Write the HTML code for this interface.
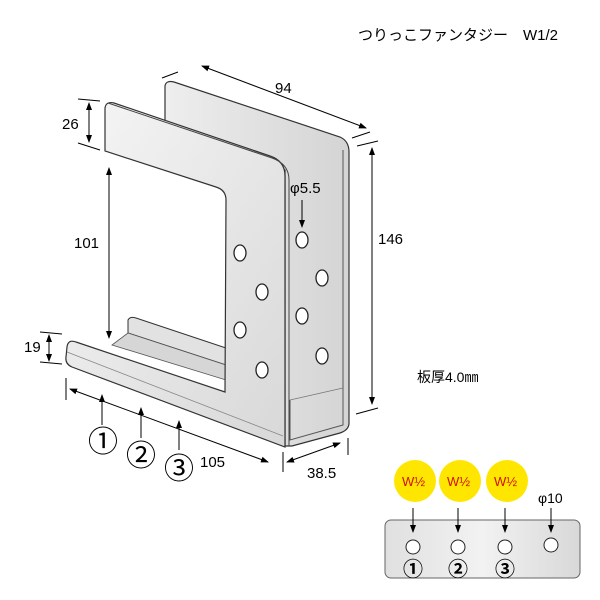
<!DOCTYPE html>
<html><head><meta charset="utf-8"><style>
html,body{margin:0;padding:0;background:#fff;}
svg{display:block;font-family:"Liberation Sans","Noto Sans CJK JP",sans-serif;}
</style></head><body>
<svg width="600" height="600" viewBox="0 0 600 600" xmlns="http://www.w3.org/2000/svg">
<defs>
<linearGradient id="g1" x1="0" y1="0" x2="1" y2="1"><stop offset="0" stop-color="#f6f6f6"/><stop offset="1" stop-color="#d8d8d8"/></linearGradient>
<linearGradient id="g2" x1="0" y1="0" x2="1" y2="0"><stop offset="0" stop-color="#eeeeee"/><stop offset="1" stop-color="#d4d4d4"/></linearGradient>
<linearGradient id="g3" x1="0" y1="0" x2="1" y2="0"><stop offset="0" stop-color="#e0e0e0"/><stop offset="0.5" stop-color="#f2f2f2"/><stop offset="1" stop-color="#d8d8d8"/></linearGradient>
<marker id="a" markerWidth="8" markerHeight="8" refX="7" refY="4" orient="auto-start-reverse" markerUnits="userSpaceOnUse"><path d="M0,1 L8,4 L0,7 Z" fill="#000"/></marker>
</defs>
<text x="358" y="40" font-size="15">つりっこファンタジー　W1/2</text>

<path d="M165,86 Q166,80 174,82 L340,137 Q349,141 349,152 L349,423 Q349,430 340,433 L292,446 L285,446 L285,170 L165,130 Z" fill="url(#g2)" stroke="#333" stroke-width="1.2"/>
<path d="M290,400 L290,440 L343,425 L343,150" fill="none" stroke="#555" stroke-width="1"/>
<path d="M290,400 L343,388" fill="none" stroke="#777" stroke-width="0.8"/>
<path d="M128,320 Q130,316 136,318 L226,348 L226,365 L128,333 Z" fill="#e2e2e2" stroke="#333" stroke-width="1"/>
<path d="M112,345 L226,380 L226,365 L128,333 Z" fill="#d6d6d6" stroke="#555" stroke-width="0.8"/>
<path d="M105,108 Q106,101 114,103 L270,156 Q285,161 285,176 L285,447 L72,367 Q65,364 66,357 L67,347 Q68,339 76,342 L225,392 L226,200 Q226,190 216,187 L105,151 Z" fill="url(#g1)" stroke="#333" stroke-width="1.2"/>
<path d="M108,103 L272,158 Q289,164 289,180 L289,446" fill="none" stroke="#444" stroke-width="1"/>
<path d="M67,352 L283,436" fill="none" stroke="#888" stroke-width="0.8"/>
<g fill="#fff" stroke="#222" stroke-width="1.3">
<ellipse cx="240" cy="253" rx="6" ry="8"/><ellipse cx="262" cy="292" rx="6" ry="8"/>
<ellipse cx="240" cy="330" rx="6" ry="8"/><ellipse cx="262" cy="370" rx="6" ry="8"/>
<ellipse cx="302" cy="240" rx="6" ry="8"/><ellipse cx="322" cy="278" rx="6" ry="8"/>
<ellipse cx="302" cy="316" rx="6" ry="8"/><ellipse cx="322" cy="356" rx="6" ry="8"/>
</g>
<g stroke="#000" stroke-width="1" fill="none">
<line x1="178" y1="72" x2="162" y2="78"/><line x1="370" y1="132" x2="352" y2="138"/>
<line x1="202" y1="66" x2="366" y2="128" marker-start="url(#a)" marker-end="url(#a)"/>
<line x1="357" y1="146" x2="378" y2="141"/><line x1="356" y1="414" x2="378" y2="408"/>
<line x1="372" y1="148" x2="372" y2="404" marker-start="url(#a)" marker-end="url(#a)"/>
<line x1="78" y1="99" x2="100" y2="101"/><line x1="78" y1="143" x2="100" y2="150"/>
<line x1="89" y1="103" x2="89" y2="142" marker-start="url(#a)" marker-end="url(#a)"/>
<line x1="109" y1="168" x2="109" y2="338" marker-start="url(#a)" marker-end="url(#a)"/>
<line x1="40" y1="332" x2="62" y2="334"/><line x1="40" y1="362" x2="62" y2="364"/>
<line x1="49" y1="335" x2="49" y2="361" marker-start="url(#a)" marker-end="url(#a)"/>
<line x1="66" y1="378" x2="66" y2="400"/><line x1="283" y1="452" x2="283" y2="472"/>
<line x1="70" y1="389" x2="268" y2="462" marker-start="url(#a)" marker-end="url(#a)"/>
<line x1="348" y1="438" x2="348" y2="455"/>
<line x1="287" y1="462" x2="340" y2="443" marker-start="url(#a)" marker-end="url(#a)"/>
<line x1="102" y1="425" x2="102" y2="395" marker-end="url(#a)"/>
<line x1="141" y1="438" x2="141" y2="408" marker-end="url(#a)"/>
<line x1="179" y1="450" x2="179" y2="421" marker-end="url(#a)"/>
<line x1="302" y1="200" x2="302" y2="227" marker-end="url(#a)"/>
</g>
<g font-size="15" fill="#000">
<text x="275" y="93">94</text>
<text x="378" y="244">146</text>
<text x="62" y="129">26</text>
<text x="74" y="248">101</text>
<text x="24" y="352">19</text>
<text x="200" y="467">105</text>
<text x="307" y="478">38.5</text>
<text x="290" y="193">φ5.5</text>
<text x="417" y="382" font-size="14">板厚4.0㎜</text>
</g>
<g font-size="30" fill="#000"><text x="88" y="452">①</text><text x="126" y="466">②</text><text x="164" y="479">③</text></g>
<rect x="385" y="520" width="195" height="58" rx="6" fill="url(#g3)" stroke="#666" stroke-width="1"/>
<g fill="#ffe600"><circle cx="415" cy="481" r="21"/><circle cx="460" cy="481" r="21"/><circle cx="507" cy="481" r="21"/></g>
<g fill="#d01010" font-size="13"><text x="402" y="486">W½</text><text x="447" y="486">W½</text><text x="494" y="486">W½</text></g>
<text x="538" y="503" font-size="14">φ10</text>
<g stroke="#000" stroke-width="1">
<line x1="413" y1="508" x2="413" y2="532" marker-end="url(#a)"/><line x1="458" y1="508" x2="458" y2="532" marker-end="url(#a)"/>
<line x1="505" y1="508" x2="505" y2="532" marker-end="url(#a)"/><line x1="551" y1="508" x2="551" y2="532" marker-end="url(#a)"/>
</g>
<g fill="#fff" stroke="#222" stroke-width="1"><circle cx="413" cy="547" r="7"/><circle cx="458" cy="547" r="7"/><circle cx="505" cy="547" r="7"/><circle cx="551" cy="545" r="7"/></g>
<g font-size="20" font-weight="bold"><text x="403" y="576">①</text><text x="448" y="576">②</text><text x="495" y="576">③</text></g>
</svg>
</body></html>
